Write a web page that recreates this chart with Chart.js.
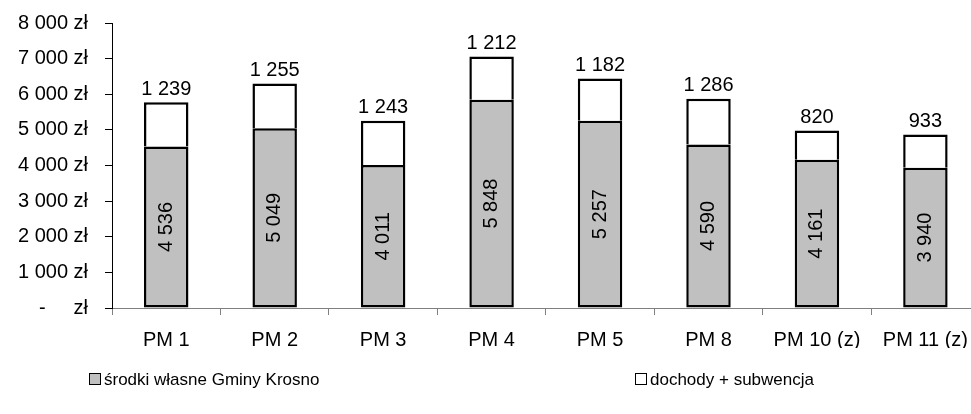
<!doctype html>
<html>
<head>
	<title>Stacked Bar</title>
	<script src="https://cdn.jsdelivr.net/npm/chart.js@4/dist/chart.umd.min.js"></script>
	<style>
		body { margin: 0; overflow: hidden; background: #fff; font-family: 'Liberation Sans', Arial, sans-serif; }
		#wrap { position: relative; width: 981px; height: 414px; }
		.legend { position: absolute; top: 370px; font-size: 17px; color: #000; white-space: nowrap; }
		.legend span.box { display: inline-block; width: 10px; height: 10px; border: 1px solid #000; margin-right: 3px; vertical-align: 0px; }
	</style>
</head>
<body>
	<div id="wrap">
		<canvas id="canvas" width="981" height="414"></canvas>
		<div class="legend" style="left:89px;"><span class="box" style="background:#c0c0c0;"></span>środki własne Gminy Krosno</div>
		<div class="legend" style="left:635px;"><span class="box" style="background:#fff;"></span>dochody + subwencja</div>
	</div>
	<script>
		var categories = ['PM 1', 'PM 2', 'PM 3', 'PM 4', 'PM 5', 'PM 8', 'PM 10 (z)', 'PM 11 (z)'];
		var ownFunds = [4536, 5049, 4011, 5848, 5257, 4590, 4161, 3940];
		var incomeSubsidy = [1239, 1255, 1243, 1212, 1182, 1286, 820, 933];
		var seriesNames = ['środki własne Gminy Krosno', 'dochody + subwencja'];

		var FONT = '"Liberation Sans", Arial, sans-serif';

		function fmt(v) {
			return String(v).replace(/\B(?=(\d{3})+(?!\d))/g, ' ');
		}

		var labelsPlugin = {
			id: 'barLabels',
			afterDatasetsDraw: function(chart) {
				var ctx = chart.ctx;
				ctx.save();
				ctx.fillStyle = '#000';
				ctx.font = '20px ' + FONT;
				var inner = chart.getDatasetMeta(0).data;
				inner.forEach(function(bar, i) {
					ctx.save();
					ctx.translate(bar.x, (bar.y + bar.base) / 2);
					ctx.rotate(-Math.PI / 2);
					ctx.textAlign = 'center';
					ctx.textBaseline = 'middle';
					ctx.fillText(fmt(ownFunds[i]), 0, 0);
					ctx.restore();
				});
				var outer = chart.getDatasetMeta(1).data;
				outer.forEach(function(bar, i) {
					ctx.textAlign = 'center';
					ctx.textBaseline = 'bottom';
					ctx.fillText(fmt(incomeSubsidy[i]), bar.x, bar.y - 3);
				});
				ctx.restore();
			}
		};

		var data = {
			labels: categories,
			datasets: [{
				label: seriesNames[0],
				data: ownFunds,
				backgroundColor: '#c0c0c0',
				borderColor: '#000',
				borderWidth: 2.5,
				borderSkipped: false
			}, {
				label: seriesNames[1],
				data: incomeSubsidy,
				backgroundColor: '#fff',
				borderColor: '#000',
				borderWidth: 2.5,
				borderSkipped: 'start'
			}]
		};

		new Chart('canvas', {
			type: 'bar',
			data: data,
			plugins: [labelsPlugin],
			options: {
				responsive: false,
				animation: false,
				datasets: {
					bar: { categoryPercentage: 1, barPercentage: 0.41 }
				},
				layout: { padding: { top: 23, bottom: 66, left: 0, right: 0 } },
				plugins: {
					legend: { display: false },
					tooltip: { enabled: false }
				},
				scales: {
					x: {
						stacked: true,
						afterFit: function(scale) { scale.height = 40; },
						border: { color: '#808080', width: 1 },
						grid: { offset: true, drawOnChartArea: false, drawTicks: true, tickLength: 7, color: '#808080' },
						ticks: { color: '#000', padding: 13, maxRotation: 0, autoSkip: false, font: { family: FONT, size: 20 } }
					},
					y: {
						stacked: true,
						min: 0,
						max: 8000,
						afterFit: function(scale) {
							scale.width = 112;
							// tick padding would otherwise push the plot down
							scale.paddingTop = 0;
							scale.paddingBottom = 0;
						},
						border: { color: '#000', width: 1 },
						grid: { drawOnChartArea: false, drawTicks: true, tickLength: 7, color: '#000' },
						ticks: {
							stepSize: 1000,
							color: '#000',
							padding: 17,
							font: { family: FONT, size: 20 },
							callback: function(v) {
								if (v === 0) return '-\u00a0\u00a0\u00a0\u00a0\u00a0zł';
								return fmt(v) + ' zł';
							}
						}
					}
				}
			}
		});
	</script>
</body>
</html>
